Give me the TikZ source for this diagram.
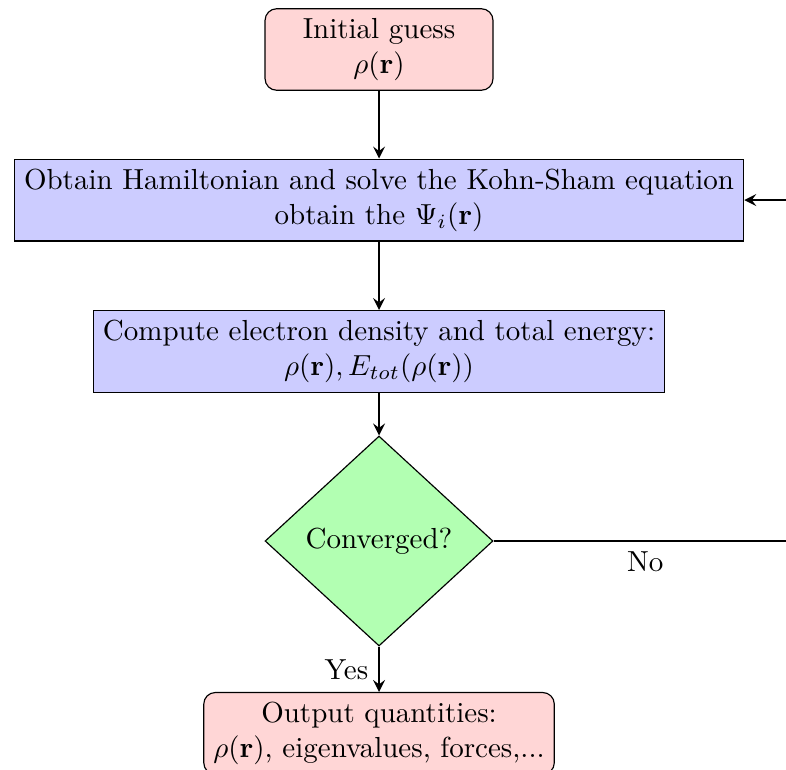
\documentclass[tikz,border=0pt]{standalone}
\usetikzlibrary{shapes.geometric,arrows}
\begin{document}
\begin{tikzpicture}[x=1pt,y=1pt,
  startstop/.style={rectangle, rounded corners, draw=black, fill=red!16, align=center},
  process/.style={rectangle, draw=black, fill=blue!20, align=center},
  decision/.style={diamond, draw=black, fill=green!30, inner sep=1pt, minimum width=78.6pt, minimum height=72.4pt},
  arrow/.style={thick,->,>=stealth}]
\useasboundingbox (0,0) rectangle (271.03,-265.17);
\node[startstop, minimum width=78.6pt] (init) at (130.7,-17.07) {Initial guess\\$\rho(\mathbf{r})$};
\node[process] (ham) at (130.7,-68.97) {Obtain Hamiltonian and solve the Kohn-Sham equation\\obtain the $\Psi_i(\mathbf{r})$};
\node[process] (comp) at (130.7,-121.2) {Compute electron density and total energy:\\$\rho(\mathbf{r}), E_{tot}(\rho(\mathbf{r}))$};
\node[decision] (conv) at (130.7,-186.55) {Converged?};
\node[startstop] (out) at (130.7,-252.9) {Output quantities:\\$\rho(\mathbf{r})$, eigenvalues, forces,...};
\coordinate (corner) at (274.8,-186.55);
\draw[arrow] (init) -- (ham);
\draw[arrow] (ham) -- (comp);
\draw[arrow] (comp) -- (conv);
\draw[arrow] (conv) -- node[left] {Yes} (out);
\draw[arrow] (conv.east) -- node[below] {No} (corner) |- (ham.east);
\end{tikzpicture}
\end{document}
